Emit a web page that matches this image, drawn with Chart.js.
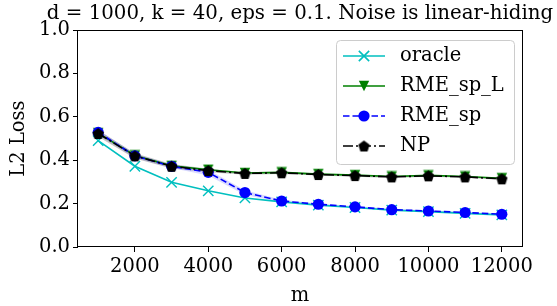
<!DOCTYPE html>
<html>
<head>
<meta charset="utf-8">
<script src="https://cdn.jsdelivr.net/npm/chart.js@4.4.0/dist/chart.umd.min.js"></script>
<style>
  html, body { margin: 0; padding: 0; background: #fff; }
  canvas { display: block; }
</style>
</head>
<body>
<canvas id="chart" width="557" height="306"></canvas>
<script>
// --- data ---
const mValues = [1000, 2000, 3000, 4000, 5000, 6000, 7000, 8000, 9000, 10000, 11000, 12000];
const xTicks = [2000, 4000, 6000, 8000, 10000, 12000];
const yTicks = [0.0, 0.2, 0.4, 0.6, 0.8, 1.0];

const oracle   = [0.490, 0.372, 0.298, 0.259, 0.226, 0.208, 0.193, 0.182, 0.170, 0.163, 0.155, 0.148];
const rmeSpL   = [0.525, 0.422, 0.374, 0.356, 0.341, 0.344, 0.336, 0.331, 0.325, 0.330, 0.325, 0.317];
const rmeSp    = [0.528, 0.420, 0.372, 0.344, 0.251, 0.212, 0.197, 0.185, 0.172, 0.166, 0.159, 0.151];
const np       = [0.523, 0.420, 0.372, 0.352, 0.339, 0.342, 0.334, 0.329, 0.323, 0.328, 0.323, 0.314];

// shaded spread around NP and RME_sp
const npHigh   = [0.538, 0.432, 0.382, 0.361, 0.345, 0.348, 0.339, 0.334, 0.328, 0.332, 0.327, 0.319];
const npLow    = [0.508, 0.408, 0.362, 0.344, 0.333, 0.336, 0.329, 0.324, 0.318, 0.324, 0.319, 0.309];
const spHigh   = [0.540, 0.430, 0.380, 0.356, 0.262, 0.218, 0.201, 0.189, 0.176, 0.169, 0.162, 0.154];
const spLow    = [0.516, 0.410, 0.364, 0.330, 0.240, 0.206, 0.193, 0.181, 0.168, 0.163, 0.156, 0.148];

const FONT = '"DejaVu Serif", "Liberation Serif", serif';
const FS = 19.5;
const LW = 1.6;

function pts(arr) {
    return mValues.map((x, i) => ({ x: x, y: arr[i] }));
}

// matplotlib-like markers that Chart.js lacks
function makeMarker(size, drawFn) {
    const c = document.createElement('canvas');
    c.width = size;
    c.height = size;
    const g = c.getContext('2d');
    drawFn(g, size / 2);
    return c;
}

const pentagon = makeMarker(13, (g, h) => {
    const r = 6;
    g.beginPath();
    for (let i = 0; i < 5; i++) {
        const a = -Math.PI / 2 + i * 2 * Math.PI / 5;
        const px = h + r * Math.cos(a), py = h + r * Math.sin(a) + 0.6;
        if (i === 0) g.moveTo(px, py); else g.lineTo(px, py);
    }
    g.closePath();
    g.fillStyle = '#000';
    g.fill();
});

const triDown = makeMarker(12, (g, h) => {
    const r = 5.2;
    g.beginPath();
    g.moveTo(h - r, h - r);
    g.lineTo(h + r, h - r);
    g.lineTo(h, h + r);
    g.closePath();
    g.fillStyle = '#008000';
    g.fill();
});

const series = [
    { label: 'oracle',    data: oracle, color: '#00bfbf', dash: [],               style: 'crossRot', radius: 7.3 },
    { label: 'RME_sp_L',  data: rmeSpL, color: '#008000', dash: [],               style: triDown,    radius: 5 },
    { label: 'RME_sp',    data: rmeSp,  color: '#0000ff', dash: [6.5, 3],         style: 'circle',   radius: 5.6 },
    { label: 'NP',        data: np,     color: '#000000', dash: [10, 3, 2, 3],    style: pentagon,   radius: 6 }
];

const datasets = series.map((s, i) => ({
    label: s.label,
    data: pts(s.data),
    borderColor: s.color,
    backgroundColor: s.color,
    borderWidth: LW,
    borderDash: s.dash,
    pointStyle: s.style,
    pointRadius: s.radius,
    pointBorderWidth: s.style === 'crossRot' ? 1.4 : 0,
    pointBorderColor: s.color,
    pointBackgroundColor: s.color,
    tension: 0,
    fill: false,
    order: 4 - i
}));

// bands (drawn underneath everything)
datasets.push(
    { data: pts(npHigh), borderWidth: 0, pointRadius: 0, fill: '+1', backgroundColor: 'rgba(0,0,0,0.22)', order: 10 },
    { data: pts(npLow),  borderWidth: 0, pointRadius: 0, fill: false, order: 10 },
    { data: pts(spHigh), borderWidth: 0, pointRadius: 0, fill: '+1', backgroundColor: 'rgba(0,0,255,0.15)', order: 10 },
    { data: pts(spLow),  borderWidth: 0, pointRadius: 0, fill: false, order: 10 }
);

// frame, title and legend drawn by hand to look like matplotlib
const decorPlugin = {
    id: 'decor',
    afterDatasetsDraw(chart) {
        const ctx = chart.ctx;
        const a = chart.chartArea;
        ctx.save();
        ctx.lineWidth = 1;
        ctx.strokeStyle = '#000';
        ctx.strokeRect(Math.round(a.left) - 0.5, Math.round(a.top) + 0.5,
                       Math.round(a.right - a.left) + 1, Math.round(a.bottom - a.top) - 1);
        ctx.restore();
    },
    afterDraw(chart) {
        const ctx = chart.ctx;
        const a = chart.chartArea;
        ctx.save();

        // title
        ctx.font = '19.8px ' + FONT;
        ctx.fillStyle = '#000';
        ctx.textAlign = 'center';
        ctx.textBaseline = 'alphabetic';
        ctx.fillText('d = 1000, k = 40, eps = 0.1. Noise is linear-hiding', (a.left + a.right) / 2, 18.5);

        // legend
        const bx = a.right - 186, by = a.top + 10, bw = 178, bh = 124;
        ctx.beginPath();
        ctx.roundRect(bx + 0.5, by + 0.5, bw, bh, 4);
        ctx.fillStyle = 'rgba(255,255,255,0.85)';
        ctx.fill();
        ctx.strokeStyle = '#cccccc';
        ctx.lineWidth = 1;
        ctx.stroke();

        series.forEach((s, i) => {
            const cy = by + 16 + i * 30;
            const x0 = bx + 7, x1 = bx + 49, xm = (x0 + x1) / 2;
            ctx.beginPath();
            ctx.setLineDash(s.dash);
            ctx.strokeStyle = s.color;
            ctx.lineWidth = LW;
            ctx.moveTo(x0, cy);
            ctx.lineTo(x1, cy);
            ctx.stroke();
            ctx.setLineDash([]);
            if (s.style === 'circle') {
                ctx.fillStyle = s.color;
                ctx.beginPath();
                ctx.arc(xm, cy, s.radius, 0, Math.PI * 2);
                ctx.fill();
            } else {
                Chart.helpers.drawPoint(ctx, {
                    pointStyle: s.style,
                    radius: s.radius,
                    borderWidth: s.style === 'crossRot' ? 1.4 : 0,
                    rotation: 0
                }, xm, cy);
            }
            ctx.fillStyle = '#000';
            ctx.font = FS + 'px ' + FONT;
            ctx.textAlign = 'left';
            ctx.textBaseline = 'middle';
            ctx.fillText(s.label, bx + 64, cy);
        });
        ctx.restore();
    }
};

const tickFont = { family: FONT, size: FS };

new Chart(document.getElementById('chart'), {
    type: 'line',
    data: { datasets: datasets },
    plugins: [decorPlugin],
    options: {
        responsive: false,
        animation: false,
        devicePixelRatio: 1,
        layout: { padding: { left: 0, top: 30, right: 35, bottom: 0 } },
        plugins: {
            legend: { display: false },
            tooltip: { enabled: false },
            filler: { propagate: false }
        },
        scales: {
            x: {
                type: 'linear',
                min: 450,
                max: 12550,
                afterBuildTicks: s => { s.ticks = xTicks.map(v => ({ value: v })); },
                afterFit: s => { s.height = 59; },
                border: { display: false },
                grid: { drawOnChartArea: false, drawTicks: true, tickLength: 5, tickColor: '#000' },
                ticks: { color: '#000', font: tickFont, padding: 3, maxRotation: 0, autoSkip: false,
                         callback: v => String(v) },
                title: { display: true, text: 'm', color: '#000', font: tickFont, padding: { top: 0, bottom: -2 } }
            },
            y: {
                min: 0,
                max: 1,
                afterBuildTicks: s => { s.ticks = yTicks.map(v => ({ value: v })); },
                afterFit: s => { s.width = 78; },
                border: { display: false },
                grid: { drawOnChartArea: false, drawTicks: true, tickLength: 5, tickColor: '#000' },
                ticks: { color: '#000', font: tickFont, padding: 3, callback: v => v.toFixed(1) },
                title: { display: true, text: 'L2 Loss', color: '#000', font: tickFont, padding: { top: 7, bottom: 0 } }
            }
        }
    }
});
</script>
</body>
</html>
